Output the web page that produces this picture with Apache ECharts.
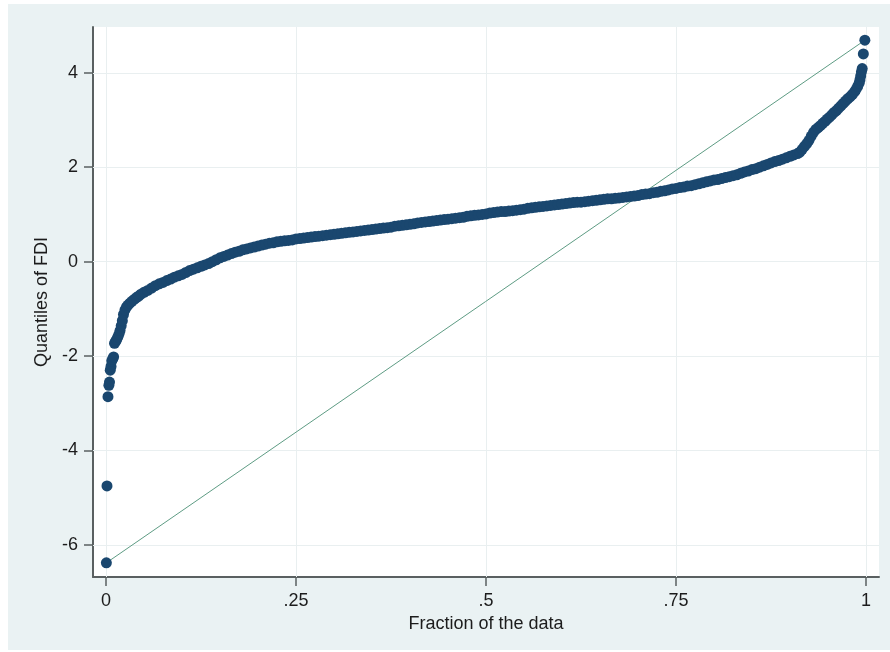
<!DOCTYPE html>
<html>
<head>
<meta charset="utf-8">
<title>Quantiles of FDI</title>
<script src="https://cdn.jsdelivr.net/npm/echarts@6/dist/echarts.min.js"></script>
<style>
  html, body { margin: 0; padding: 0; background: #ffffff; }
  #frame { position: absolute; left: 8px; top: 4px; width: 882px; height: 646px; background: #eaf2f3; }
  #chart { position: absolute; left: 0; top: 0; width: 890px; height: 652px; }
</style>
</head>
<body>
<div id="frame"></div>
<div id="chart"></div>
<script>
// Fraction of the data (plotting position) for each sorted observation
const fraction = [
  0.0005,0.0013,0.0026,0.0038,0.0046,0.0056,0.0066,0.0076,0.0088,0.0100,
  0.0112,0.0126,0.0140,0.0155,0.0170,0.0185,0.0200,0.0215,0.0230,0.0250,
  0.0270,0.0290,0.0315,0.0340,0.0370,0.0400,0.0430,0.0460,0.050,0.055,
  0.060,0.065,0.070,0.075,0.080,0.085,0.090,0.095,0.100,0.105,
  0.110,0.115,0.120,0.125,0.130,0.135,0.140,0.145,0.150,0.155,
  0.160,0.165,0.170,0.175,0.180,0.185,0.190,0.195,0.200,0.205,
  0.210,0.215,0.220,0.225,0.230,0.235,0.240,0.245,0.250,0.255,
  0.260,0.265,0.270,0.275,0.280,0.285,0.290,0.295,0.300,0.305,
  0.310,0.315,0.320,0.325,0.330,0.335,0.340,0.345,0.350,0.355,
  0.360,0.365,0.370,0.375,0.380,0.385,0.390,0.395,0.400,0.405,
  0.410,0.415,0.420,0.425,0.430,0.435,0.440,0.445,0.450,0.455,
  0.460,0.465,0.470,0.475,0.480,0.485,0.490,0.495,0.500,0.505,
  0.510,0.515,0.520,0.525,0.530,0.535,0.540,0.545,0.550,0.555,
  0.560,0.565,0.570,0.575,0.580,0.585,0.590,0.595,0.600,0.605,
  0.610,0.615,0.620,0.625,0.630,0.635,0.640,0.645,0.650,0.655,
  0.660,0.665,0.670,0.675,0.680,0.685,0.690,0.695,0.700,0.705,
  0.710,0.715,0.720,0.725,0.730,0.735,0.740,0.745,0.750,0.755,
  0.760,0.765,0.770,0.775,0.780,0.785,0.790,0.795,0.800,0.805,
  0.810,0.815,0.820,0.825,0.830,0.835,0.840,0.845,0.850,0.855,
  0.860,0.865,0.870,0.875,0.880,0.885,0.890,0.895,0.900,0.905,
  0.910,0.913,0.916,0.919,0.922,0.925,0.928,0.931,0.934,0.937,
  0.940,0.943,0.946,0.949,0.952,0.955,0.958,0.961,0.964,0.967,
  0.970,0.973,0.976,0.979,0.982,0.985,0.987,0.989,0.991,0.992,
  0.993,0.994,0.995,0.9965,0.9985
];

// Sorted FDI values (quantiles)
const quantileFDI = [
  -6.38,-4.75,-2.86,-2.62,-2.55,-2.30,-2.22,-2.10,-2.06,-2.02,
  -1.73,-1.69,-1.65,-1.60,-1.54,-1.46,-1.36,-1.25,-1.12,-1.02,
  -0.96,-0.92,-0.88,-0.84,-0.80,-0.76,-0.73,-0.69,-0.65,-0.61,
  -0.56,-0.51,-0.47,-0.44,-0.40,-0.37,-0.33,-0.30,-0.27,-0.23,
  -0.19,-0.16,-0.13,-0.10,-0.07,-0.04,0.00,0.04,0.08,0.11,
  0.14,0.17,0.20,0.22,0.25,0.27,0.29,0.31,0.33,0.35,
  0.37,0.39,0.40,0.42,0.43,0.44,0.45,0.46,0.48,0.49,
  0.50,0.51,0.52,0.53,0.54,0.55,0.56,0.57,0.58,0.59,
  0.60,0.61,0.62,0.63,0.64,0.65,0.66,0.67,0.68,0.69,
  0.70,0.71,0.72,0.73,0.75,0.76,0.77,0.78,0.79,0.80,
  0.82,0.83,0.84,0.85,0.86,0.87,0.88,0.89,0.90,0.91,
  0.92,0.93,0.94,0.96,0.97,0.98,0.99,1.00,1.01,1.03,
  1.04,1.05,1.06,1.06,1.07,1.08,1.09,1.10,1.11,1.13,
  1.14,1.15,1.16,1.17,1.18,1.19,1.20,1.21,1.22,1.23,
  1.24,1.25,1.26,1.26,1.27,1.28,1.29,1.30,1.31,1.32,
  1.33,1.33,1.34,1.35,1.36,1.37,1.38,1.39,1.40,1.42,
  1.43,1.44,1.46,1.47,1.49,1.50,1.52,1.54,1.55,1.57,
  1.58,1.60,1.61,1.63,1.65,1.67,1.69,1.71,1.73,1.74,
  1.76,1.78,1.80,1.82,1.84,1.87,1.90,1.92,1.95,1.97,
  2.00,2.03,2.06,2.09,2.12,2.14,2.17,2.20,2.23,2.26,
  2.29,2.32,2.38,2.44,2.50,2.57,2.66,2.74,2.80,2.84,
  2.88,2.93,2.97,3.02,3.06,3.11,3.16,3.20,3.25,3.30,
  3.35,3.40,3.45,3.49,3.54,3.60,3.65,3.71,3.78,3.85,
  3.93,4.02,4.09,4.40,4.69
];

// Axis ticks and their labels
const xTickValues = [0, 0.25, 0.5, 0.75, 1];
const xTickLabels = ['0', '.25', '.5', '.75', '1'];
const yTickValues = [-6, -4, -2, 0, 2, 4];
const yTickLabels = ['-6', '-4', '-2', '0', '2', '4'];

const points = fraction.map((f, i) => [f, quantileFDI[i]]);
const last = fraction.length - 1;
// Reference line joining the smallest and the largest observation
const refLine = [[fraction[0], quantileFDI[0]], [fraction[last], quantileFDI[last]]];

const FONT = '"Liberation Sans", Arial, sans-serif';
const textColor = '#1c1c1c';
const axisGrey = '#5a6061';
const gridColor = '#e9eff0';

const gridLines = xTickValues.map(v => ({ xAxis: v }))
  .concat(yTickValues.map(v => ({ yAxis: v })));

const chart = echarts.init(document.getElementById('chart'), null, { renderer: 'canvas' });
chart.setOption({
  backgroundColor: 'transparent',
  animation: false,
  grid: {
    left: 93, right: 11, top: 27, bottom: 75,
    show: true, backgroundColor: '#ffffff', borderWidth: 0,
    containLabel: false
  },
  xAxis: {
    type: 'value',
    min: -0.0171, max: 1.0171,
    name: 'Fraction of the data',
    nameLocation: 'middle',
    nameGap: 35,
    nameTextStyle: { fontFamily: FONT, fontSize: 18, color: textColor },
    axisLine: { show: true, onZero: false, lineStyle: { color: axisGrey, width: 2 } },
    axisTick: { show: true, length: 9, customValues: xTickValues, lineStyle: { color: axisGrey, width: 1.5 } },
    axisLabel: {
      customValues: xTickValues,
      margin: 15,
      fontFamily: FONT, fontSize: 18, color: textColor,
      formatter: v => xTickLabels[xTickValues.indexOf(v)] ?? ''
    },
    splitLine: { show: false }
  },
  yAxis: {
    type: 'value',
    min: -6.68, max: 4.97,
    name: 'Quantiles of FDI',
    nameLocation: 'middle',
    nameGap: 42,
    nameTextStyle: { fontFamily: FONT, fontSize: 18, color: textColor },
    axisLine: { show: true, onZero: false, lineStyle: { color: axisGrey, width: 2 } },
    axisTick: { show: true, length: 9, customValues: yTickValues, lineStyle: { color: axisGrey, width: 1.5 } },
    axisLabel: {
      customValues: yTickValues,
      margin: 15,
      fontFamily: FONT, fontSize: 18, color: textColor,
      formatter: v => yTickLabels[yTickValues.indexOf(v)] ?? ''
    },
    splitLine: { show: false }
  },
  series: [
    {
      type: 'line',
      data: refLine,
      symbol: 'none',
      silent: true,
      z: 2,
      lineStyle: { color: '#5e9c84', width: 1 },
      markLine: {
        silent: true,
        symbol: 'none',
        label: { show: false },
        lineStyle: { color: gridColor, width: 1, type: 'solid' },
        data: gridLines,
        z: 1
      }
    },
    {
      type: 'scatter',
      data: points,
      symbol: 'circle',
      symbolSize: 11,
      z: 3,
      itemStyle: { color: '#1a476f', opacity: 1 }
    }
  ]
});
</script>
</body>
</html>
